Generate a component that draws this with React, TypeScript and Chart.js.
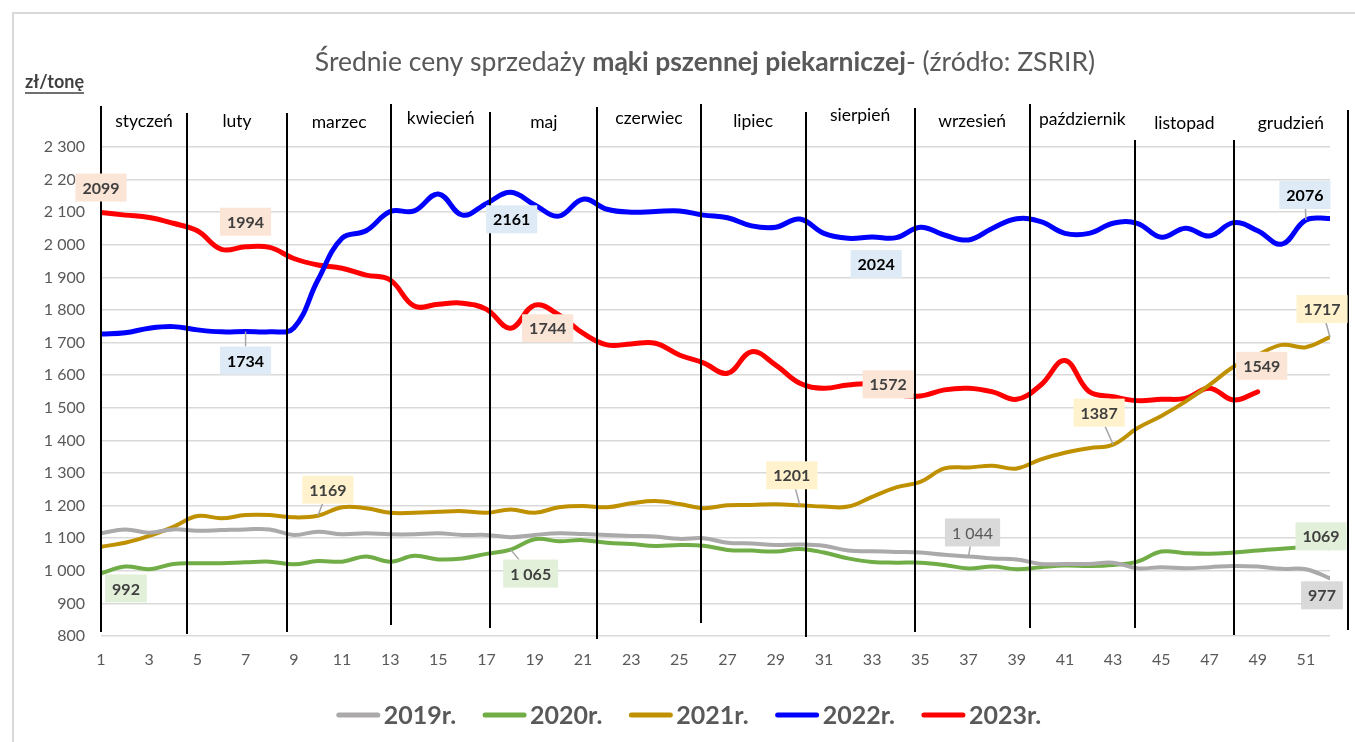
import { useEffect, useRef } from 'react';
import { Chart, registerables } from 'chart.js';

Chart.register(...registerables);

// ---------- DATA ----------
const weeks = [1, 2, 3, 4, 5, 6, 7, 8, 9, 10, 11, 12, 13, 14, 15, 16, 17, 18, 19, 20, 21, 22, 23, 24, 25, 26,
  27, 28, 29, 30, 31, 32, 33, 34, 35, 36, 37, 38, 39, 40, 41, 42, 43, 44, 45, 46, 47, 48, 49, 50, 51, 52];

const seriesNames = ['2019r.', '2020r.', '2021r.', '2022r.', '2023r.'];

const prices2019 = [1115, 1127, 1117, 1127, 1123, 1125, 1127, 1127, 1110, 1120, 1112, 1115, 1112, 1112, 1115, 1110,
  1110, 1103, 1110, 1115, 1113, 1110, 1107, 1105, 1098, 1100, 1086, 1084, 1079, 1081, 1077, 1062, 1060, 1058,
  1056, 1049, 1044, 1038, 1035, 1021, 1021, 1021, 1025, 1008, 1011, 1008, 1011, 1015, 1013, 1006, 1005, 977];

const prices2020 = [992, 1013, 1005, 1021, 1023, 1023, 1026, 1028, 1020, 1030, 1028, 1044, 1028, 1046, 1035, 1038,
  1052, 1065, 1097, 1091, 1094, 1086, 1082, 1076, 1079, 1077, 1064, 1062, 1059, 1067, 1056, 1038, 1027, 1025,
  1025, 1018, 1007, 1013, 1005, 1011, 1016, 1015, 1018, 1028, 1059, 1054, 1052, 1056, 1062, 1068, 1072, 1069];

const prices2021 = [1074, 1086, 1107, 1135, 1168, 1161, 1171, 1171, 1164, 1169, 1195, 1192, 1178, 1178, 1181, 1183,
  1178, 1188, 1178, 1195, 1199, 1195, 1207, 1214, 1205, 1192, 1201, 1202, 1204, 1201, 1197, 1197, 1227, 1256,
  1273, 1314, 1317, 1322, 1314, 1342, 1362, 1376, 1387, 1437, 1475, 1519, 1570, 1626, 1662, 1693, 1686, 1717];

const prices2022 = [1726, 1730, 1744, 1749, 1739, 1733, 1734, 1733, 1745, 1892, 2020, 2043, 2102, 2104, 2156, 2091,
  2127, 2161, 2122, 2088, 2140, 2109, 2100, 2102, 2104, 2091, 2083, 2058, 2054, 2079, 2035, 2020, 2024, 2022,
  2054, 2030, 2015, 2051, 2080, 2071, 2035, 2035, 2066, 2066, 2023, 2051, 2027, 2068, 2043, 2002, 2076, 2081];

const prices2023 = [2099, 2091, 2084, 2066, 2043, 1986, 1994, 1992, 1958, 1938, 1928, 1907, 1892, 1812, 1818, 1821,
  1802, 1744, 1815, 1785, 1729, 1693, 1696, 1698, 1662, 1638, 1606, 1672, 1631, 1575, 1560, 1570, 1572, 1542,
  1536, 1555, 1560, 1549, 1526, 1570, 1645, 1550, 1534, 1522, 1526, 1529, 1560, 1524, 1549, null, null, null];

const yMin = 800;
const yMax = 2300;
const yStep = 100;

const monthNames = ['styczeń', 'luty', 'marzec', 'kwiecień', 'maj', 'czerwiec', 'lipiec', 'sierpień', 'wrzesień',
  'październik', 'listopad', 'grudzień'];
// month separators, in week units
const monthBounds = [1, 4.57, 8.72, 13.04, 17.15, 21.6, 25.88, 30.24, 34.76, 39.54, 43.9, 48.01, 52.74];

// ---------- STYLE ----------
const seriesColors = ['#ABA9A9', '#70AD47', '#BF9000', '#0000FF', '#FF0000'];
const seriesWidths = [4, 4, 4, 5, 5];
const labelBoxColors = ['#D9D9D9', '#E2F0D9', '#FFF2CC', '#DEEBF7', '#FBE5D6'];
const labelTextColors = ['#404040', '#404040', '#404040', '#000000', '#404040'];
const sepTops = [106, 113, 113, 104, 112, 107, 104, 112, 108, 104, 140, 140, 110];
const sepBottoms = [632, 634, 632, 625, 628, 639, 623, 637, 632, 628, 628, 635, 630];
const monthLabelY = [121, 121, 122, 118, 122, 118, 121, 115, 121, 119, 123, 123];

// data labels: series index, week, offset of the box centre from the point
const dataLabelMarks = [
  { s: 4, w: 1, dx: 0, dy: -25 },
  { s: 4, w: 7, dx: 0, dy: -25 },
  { s: 4, w: 18, dx: 37, dy: 0 },
  { s: 4, w: 33, dx: 16, dy: 0 },
  { s: 4, w: 49, dx: 4, dy: -26 },
  { s: 3, w: 7, dx: 0, dy: 29, leader: true },
  { s: 3, w: 18, dx: 1, dy: 27 },
  { s: 3, w: 33, dx: 4, dy: 27 },
  { s: 3, w: 51, dx: -1, dy: -25, leader: true },
  { s: 2, w: 10, dx: 10, dy: -26, leader: true },
  { s: 2, w: 30, dx: -8, dy: -30, leader: true },
  { s: 2, w: 43, dx: -14, dy: -32, leader: true },
  { s: 2, w: 52, dx: -8, dy: -28, leader: true },
  { s: 0, w: 37, dx: 4, dy: -24, leader: true, sep: true, regular: true },
  { s: 0, w: 52, dx: -8, dy: 17 },
  { s: 1, w: 1, dx: 25, dy: 15 },
  { s: 1, w: 18, dx: 20, dy: 24, leader: true, sep: true },
  { s: 1, w: 52, dx: -9, dy: -12 },
];

const FONT = 'Lato';

function fmtSpace(v: number): string {
  if (v >= 1000) {
    const th = Math.floor(v / 1000);
    const rest = String(v % 1000).padStart(3, '0');
    return `${th} ${rest}`;
  }
  return String(v);
}

const decorPlugin = {
  id: 'decor',
  afterDatasetsDraw(chart: any) {
    const ctx = chart.ctx;
    const xs = chart.scales.x;
    ctx.save();
    // month separators
    ctx.strokeStyle = '#000000';
    ctx.lineWidth = 2;
    monthBounds.forEach((w, i) => {
      const x = Math.round(xs.getPixelForValue(w));
      ctx.beginPath();
      ctx.moveTo(x, sepTops[i]);
      ctx.lineTo(x, sepBottoms[i]);
      ctx.stroke();
    });
    // month names
    ctx.fillStyle = '#000000';
    ctx.font = `17.5px ${FONT}`;
    ctx.textAlign = 'center';
    ctx.textBaseline = 'middle';
    monthNames.forEach((m, i) => {
      const x = (xs.getPixelForValue(monthBounds[i]) + xs.getPixelForValue(monthBounds[i + 1])) / 2;
      ctx.fillText(m, x, monthLabelY[i]);
    });
    ctx.restore();
  },
  afterDraw(chart: any) {
    const ctx = chart.ctx;
    const xs = chart.scales.x;
    const ys = chart.scales.y;
    ctx.save();

    // outer frame
    ctx.strokeStyle = '#D9D9D9';
    ctx.lineWidth = 2;
    ctx.beginPath();
    ctx.moveTo(13, 760);
    ctx.lineTo(13, 13);
    ctx.lineTo(1370, 13);
    ctx.stroke();

    // title (mixed weight)
    const parts = [
      { t: 'Średnie ceny sprzedaży ', b: false },
      { t: 'mąki pszennej piekarniczej', b: true },
      { t: '- (źródło: ZSRIR)', b: false },
    ];
    const tSize = 26.5;
    let total = 0;
    const widths = parts.map((p) => {
      ctx.font = `${p.b ? 'bold ' : ''}${tSize}px ${FONT}`;
      const w = ctx.measureText(p.t).width;
      total += w;
      return w;
    });
    let tx = 705 - total / 2;
    ctx.fillStyle = '#595959';
    ctx.textAlign = 'left';
    ctx.textBaseline = 'middle';
    parts.forEach((p, i) => {
      ctx.font = `${p.b ? 'bold ' : ''}${tSize}px ${FONT}`;
      ctx.fillText(p.t, tx, 62);
      tx += widths[i];
    });

    // unit label
    ctx.font = `bold 18px ${FONT}`;
    ctx.fillStyle = '#404040';
    ctx.textBaseline = 'alphabetic';
    const unit = 'zł/tonę';
    ctx.fillText(unit, 25, 88);
    const uw = ctx.measureText(unit).width;
    ctx.strokeStyle = '#404040';
    ctx.lineWidth = 1.5;
    ctx.beginPath();
    ctx.moveTo(25, 93);
    ctx.lineTo(25 + uw, 93);
    ctx.stroke();

    // data labels
    dataLabelMarks.forEach((m) => {
      const v = chart.data.datasets[m.s].data[m.w - 1] as number;
      const px = xs.getPixelForValue(m.w);
      const py = ys.getPixelForValue(v);
      const text = m.sep ? fmtSpace(v) : String(v);
      ctx.font = `${m.regular ? '' : 'bold '}16px ${FONT}`;
      const tw = ctx.measureText(text).width;
      const bw = tw + 14;
      const bh = 28;
      const cx = px + m.dx;
      const cy = py + m.dy;
      if (m.leader) {
        const ddx = px - cx;
        const ddy = py - cy;
        let t = 1;
        if (ddx !== 0) t = Math.min(t, Math.abs((bw / 2) / ddx));
        if (ddy !== 0) t = Math.min(t, Math.abs((bh / 2) / ddy));
        if (t < 1) {
          ctx.strokeStyle = '#A6A6A6';
          ctx.lineWidth = 1.5;
          ctx.beginPath();
          ctx.moveTo(cx + ddx * t, cy + ddy * t);
          ctx.lineTo(px, py);
          ctx.stroke();
        }
      }
      ctx.fillStyle = labelBoxColors[m.s];
      ctx.fillRect(cx - bw / 2, cy - bh / 2, bw, bh);
      ctx.fillStyle = m.regular ? '#595959' : labelTextColors[m.s];
      ctx.textAlign = 'center';
      ctx.textBaseline = 'middle';
      ctx.fillText(text, cx, cy + 1);
    });

    // legend
    const ds = chart.data.datasets;
    ctx.font = `bold 25px ${FONT}`;
    const lineLen = 43;
    const gapTxt = 4;
    const gapItem = 27;
    const tws = ds.map((d: any) => ctx.measureText(d.label).width);
    let lw = 0;
    tws.forEach((w: number) => { lw += lineLen + gapTxt + w; });
    lw += gapItem * (ds.length - 1);
    let lx = 689 - lw / 2;
    const ly = 715;
    ds.forEach((d: any, i: number) => {
      ctx.strokeStyle = d.borderColor;
      ctx.lineWidth = 5;
      ctx.lineCap = 'round';
      ctx.beginPath();
      ctx.moveTo(lx + 2, ly);
      ctx.lineTo(lx + lineLen - 2, ly);
      ctx.stroke();
      ctx.fillStyle = '#595959';
      ctx.textAlign = 'left';
      ctx.textBaseline = 'middle';
      ctx.fillText(d.label, lx + lineLen + gapTxt, ly + 1);
      lx += lineLen + gapTxt + tws[i] + gapItem;
    });

    ctx.restore();
  },
};

export default function App() {
  const canvasRef = useRef<HTMLCanvasElement | null>(null);

  useEffect(() => {
    document.body.style.margin = '0';
    document.body.style.overflow = 'hidden';
    const canvas = canvasRef.current;
    if (!canvas) return;

    const allSeries = [prices2019, prices2020, prices2021, prices2022, prices2023];

    const chart = new Chart(canvas, {
      type: 'line',
      data: {
        labels: weeks,
        datasets: allSeries.map((d, i) => ({
          label: seriesNames[i],
          data: d,
          borderColor: seriesColors[i],
          backgroundColor: seriesColors[i],
          borderWidth: seriesWidths[i],
          pointRadius: 0,
          pointHoverRadius: 0,
          tension: 0.4,
          fill: false,
          spanGaps: false,
          borderCapStyle: 'round',
          borderJoinStyle: 'round',
        })),
      },
      options: {
        responsive: false,
        animation: false,
        events: [],
        layout: { padding: { left: 0, right: 25, top: 147, bottom: 66 } },
        plugins: {
          legend: { display: false },
          title: { display: false },
          tooltip: { enabled: false },
        },
        scales: {
          x: {
            type: 'linear',
            min: 1,
            max: 52,
            grid: { display: false, drawTicks: false },
            border: { display: false },
            ticks: {
              stepSize: 1,
              autoSkip: false,
              maxRotation: 0,
              padding: 14,
              color: '#595959',
              font: { family: FONT, size: 16 },
              callback: (v: any) => (v % 2 === 1 && v <= 51 ? String(v) : ''),
            },
            afterFit: (s: any) => { s.height = 40; },
          },
          y: {
            min: yMin,
            max: yMax,
            grid: { color: '#D9D9D9', lineWidth: 1.5, drawTicks: false },
            border: { display: false },
            ticks: {
              stepSize: yStep,
              padding: 16,
              color: '#595959',
              font: { family: FONT, size: 16 },
              callback: (v: any) => fmtSpace(Number(v)),
            },
            afterFit: (s: any) => { s.width = 101; },
          },
        },
      },
      plugins: [decorPlugin],
    });

    let alive = true;
    if ((document as any).fonts && (document as any).fonts.load) {
      Promise.all([
        (document as any).fonts.load(`16px ${FONT}`),
        (document as any).fonts.load(`bold 16px ${FONT}`),
      ]).then(() => { if (alive) chart.update(); }).catch(() => {});
    }

    return () => {
      alive = false;
      chart.destroy();
    };
  }, []);

  return (
    <div style={{ width: 1355, height: 742, background: '#ffffff' }}>
      <canvas ref={canvasRef} width={1355} height={742} style={{ display: 'block' }} />
    </div>
  );
}
